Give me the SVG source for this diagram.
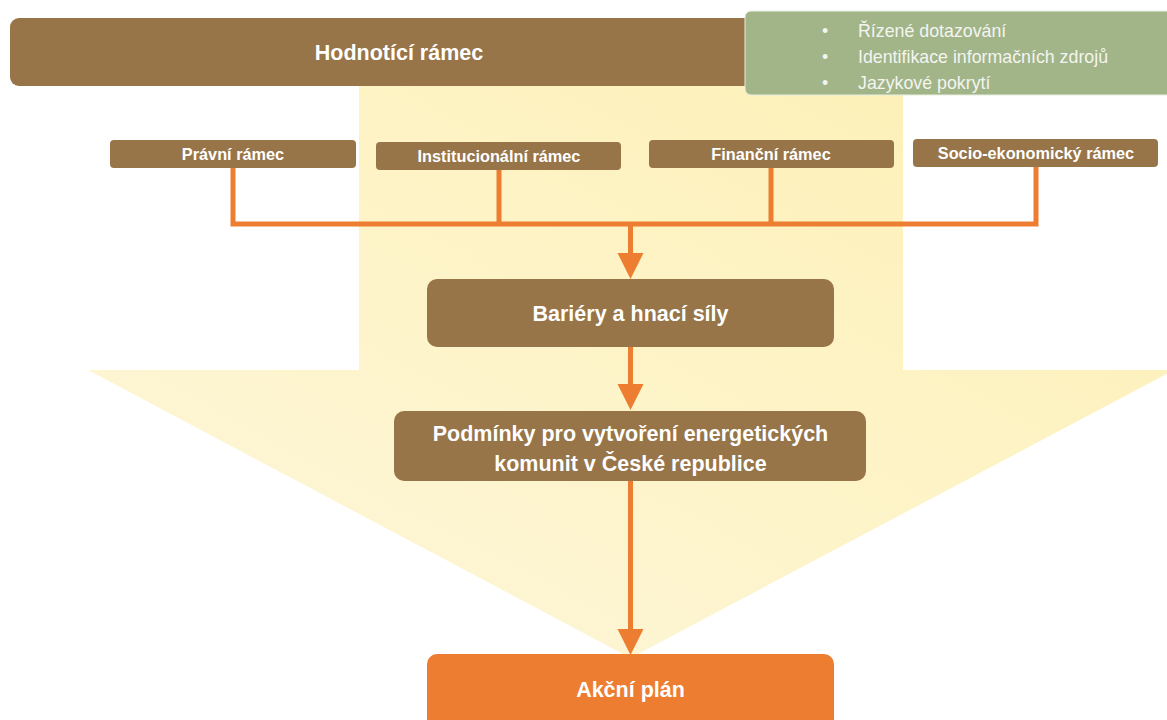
<svg xmlns="http://www.w3.org/2000/svg" width="1167" height="720" viewBox="0 0 1167 720">
<defs>
<linearGradient id="glow" x1="0" y1="1" x2="1" y2="0">
<stop offset="0" stop-color="#FDF7DC"/>
<stop offset="1" stop-color="#FDF0B4"/>
</linearGradient>
<marker id="ah" markerWidth="28" markerHeight="28" refX="6" refY="13" orient="auto" markerUnits="userSpaceOnUse">
<path d="M0,0 L26,13 L0,26 Z" fill="#ED7D31"/>
</marker>
<style>
.brown{fill:#977549}
.orange{fill:#ED7D31}
.t{font-family:"Liberation Sans",Arial,sans-serif;font-weight:bold;fill:#FFFFFF;text-anchor:middle}
.big{font-size:21.5px}
.small{font-size:16.3px}
.g{font-family:"Liberation Sans",Arial,sans-serif;font-size:17.8px;fill:#F4F4F0}
.line{fill:none;stroke:#ED7D31;stroke-width:5}
</style>
</defs>
<rect width="1167" height="720" fill="#FFFFFF"/>
<g id="background-arrow">
<path d="M359,84 L903,84 L903,370 L1174,370 L630.5,658 L88,370 L359,370 Z" fill="url(#glow)"/>
</g>
<g id="hodnotici-ramec">
<rect class="brown" x="10" y="18" width="790" height="68" rx="9"/>
<text class="t big" x="399" y="60">Hodnotící rámec</text>
</g>
<g id="metody">
<rect x="745" y="11" width="430" height="84" rx="6" fill="#A1B588" stroke="#E8EEDF" stroke-width="1"/>
<text class="g" x="822" y="37">•</text>
<text class="g" x="858" y="37">Řízené dotazování</text>
<text class="g" x="822" y="63">•</text>
<text class="g" x="858" y="63">Identifikace informačních zdrojů</text>
<text class="g" x="822" y="89">•</text>
<text class="g" x="858" y="89">Jazykové pokrytí</text>
</g>
<g id="pravni-ramec">
<rect class="brown" x="110" y="140" width="246" height="28" rx="4"/>
<text class="t small" x="233" y="160">Právní rámec</text>
</g>
<g id="institucionalni-ramec">
<rect class="brown" x="376" y="142" width="245" height="28" rx="4"/>
<text class="t small" x="499" y="162">Institucionální rámec</text>
</g>
<g id="financni-ramec">
<rect class="brown" x="649" y="140" width="245" height="28" rx="4"/>
<text class="t small" x="771" y="160">Finanční rámec</text>
</g>
<g id="socio-ekonomicky-ramec">
<rect class="brown" x="913" y="139" width="245" height="28" rx="4"/>
<text class="t small" x="1036" y="159">Socio-ekonomický rámec</text>
</g>
<g id="connectors">
<path class="line" d="M233,168 V224 H1036 V167"/>
<path class="line" d="M499,170 V224"/>
<path class="line" d="M771,168 V224"/>
<path class="line" d="M630.5,224 V259" marker-end="url(#ah)"/>
<path class="line" d="M630.5,347 V390" marker-end="url(#ah)"/>
<path class="line" d="M630.5,481 V635" marker-end="url(#ah)"/>
</g>
<g id="bariery">
<rect class="brown" x="427" y="279" width="407" height="68" rx="10"/>
<text class="t big" x="630.5" y="321">Bariéry a hnací síly</text>
</g>
<g id="podminky">
<rect class="brown" x="394" y="411" width="472" height="70" rx="10"/>
<text class="t big" x="630.5" y="441">Podmínky pro vytvoření energetických</text>
<text class="t big" x="630.5" y="471">komunit v České republice</text>
</g>
<g id="akcni-plan">
<rect class="orange" x="427" y="654" width="407" height="76" rx="10"/>
<text class="t big" x="630.5" y="697">Akční plán</text>
</g>
</svg>
